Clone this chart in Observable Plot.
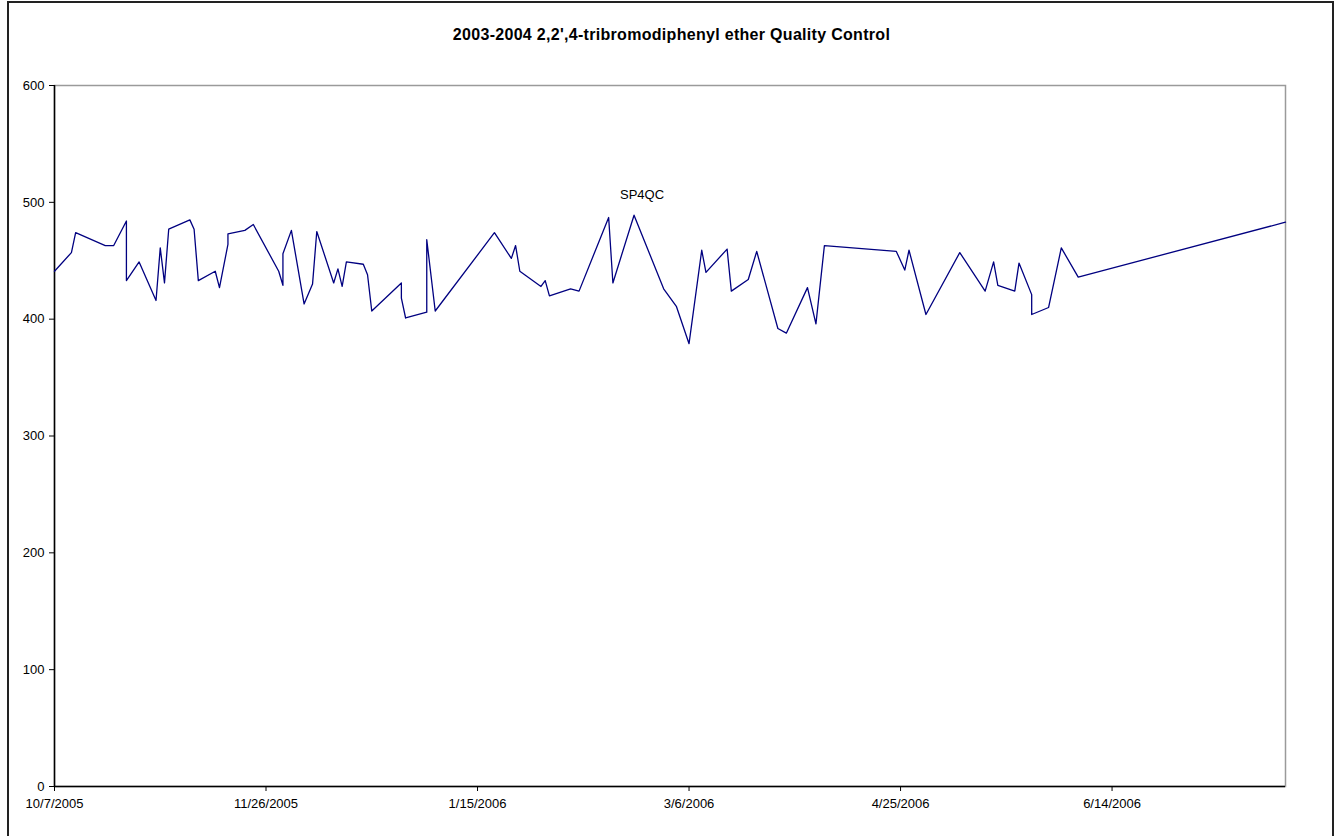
<!DOCTYPE html>
<html>
<head>
<meta charset="utf-8">
<script src="https://cdn.jsdelivr.net/npm/d3@7"></script>
<script src="https://cdn.jsdelivr.net/npm/@observablehq/plot@0.6"></script>
<style>
  html, body { margin: 0; padding: 0; background: #fff; overflow: hidden; }
  body { width: 1341px; height: 836px; position: relative; font-family: "Liberation Sans", Arial, sans-serif; }
  #frame { position: absolute; left: 7px; top: 1px; width: 1327px; height: 860px; border: 2px solid #222; box-sizing: border-box; pointer-events: none; }
  #title { position: absolute; left: 0; top: 26px; width: 1343px; text-align: center; font-weight: bold; font-size: 16px; letter-spacing: 0.3px; color: #000; }
  #chart { position: absolute; left: 0; top: 60px; }
</style>
</head>
<body>
<div id="title">2003-2004 2,2',4-tribromodiphenyl ether Quality Control</div>
<div id="chart"></div>
<div id="frame"></div>
<script>
const dates = [
  "2005-10-07","2005-10-11","2005-10-12","2005-10-19","2005-10-21","2005-10-24","2005-10-24","2005-10-27",
  "2005-10-31","2005-11-01","2005-11-02","2005-11-03","2005-11-08","2005-11-09","2005-11-10","2005-11-14",
  "2005-11-15","2005-11-17","2005-11-17","2005-11-21","2005-11-23","2005-11-29","2005-11-30","2005-11-30",
  "2005-12-02","2005-12-05","2005-12-07","2005-12-08","2005-12-12","2005-12-13","2005-12-14","2005-12-15",
  "2005-12-19","2005-12-20","2005-12-21","2005-12-28","2005-12-28","2005-12-29","2006-01-03","2006-01-03",
  "2006-01-05","2006-01-19","2006-01-23","2006-01-24","2006-01-25","2006-01-30","2006-01-31","2006-02-01",
  "2006-02-06","2006-02-08","2006-02-15","2006-02-16","2006-02-21","2006-02-28","2006-03-03","2006-03-06",
  "2006-03-09","2006-03-10","2006-03-15","2006-03-16","2006-03-20","2006-03-22","2006-03-27","2006-03-29",
  "2006-04-03","2006-04-05","2006-04-07","2006-04-24","2006-04-26","2006-04-27","2006-05-01","2006-05-09",
  "2006-05-15","2006-05-17","2006-05-18","2006-05-22","2006-05-23","2006-05-26","2006-05-26","2006-05-30",
  "2006-06-02","2006-06-06","2006-07-25"
];
const values = [
  441,457,474,463,463,484,433,449,
  416,461,431,477,485,477,433,441,
  427,464,473,476,481,441,429,456,
  476,413,430,475,431,443,428,449,
  447,438,407,431,418,401,406,468,
  407,474,452,463,441,428,433,420,
  426,424,487,431,489,426,411,379,
  459,440,460,424,434,458,392,388,
  427,396,463,458,442,459,404,457,
  424,449,429,424,448,421,404,410,
  461,436,483
];
const yTicks = [0, 100, 200, 300, 400, 500, 600];
const xTickDates = ["2005-10-07","2005-11-26","2006-01-15","2006-03-06","2006-04-25","2006-06-14"];
const xDomain = ["2005-10-07","2006-07-25"];
const labelText = ["SP4QC"];
const labelDate = ["2006-02-21"];
const labelValue = [489];

const toDate = s => new Date(s + "T00:00:00Z");
const data = dates.map((d, i) => ({date: toDate(d), value: values[i]}));
const labels = labelText.map((t, i) => ({text: t, date: toDate(labelDate[i]), value: labelValue[i]}));
const fmt = d => `${d.getUTCMonth() + 1}/${d.getUTCDate()}/${d.getUTCFullYear()}`;

const chart = Plot.plot({
  width: 1341,
  height: 776,
  marginLeft: 54,
  marginRight: 56,
  marginTop: 25,
  marginBottom: 50,
  style: {fontFamily: "'Liberation Sans', Arial, sans-serif", fontSize: "13px", background: "transparent", color: "#000"},
  x: {type: "utc", domain: xDomain.map(toDate)},
  y: {domain: [0, 600]},
  marks: [
    Plot.frame({stroke: "#9a9a9a", strokeWidth: 1.5}),
    Plot.axisY({ticks: yTicks, tickSize: 5, tickPadding: 5, tickFormat: d => String(d), label: null, fontSize: 13}),
    Plot.axisX({ticks: xTickDates.map(toDate), tickSize: 5, tickPadding: 7, tickFormat: fmt, label: null, fontSize: 13}),
    Plot.ruleY([0], {stroke: "#000", strokeWidth: 1.5}),
    Plot.ruleX([toDate(xDomain[0])], {stroke: "#000", strokeWidth: 1.5}),
    Plot.line(data, {x: "date", y: "value", stroke: "#000080", strokeWidth: 1.3}),
    Plot.text(labels, {x: "date", y: "value", text: "text", dx: 8, dy: -20, fontSize: 13, fill: "#000"})
  ]
});
document.getElementById("chart").appendChild(chart);
</script>
</body>
</html>
